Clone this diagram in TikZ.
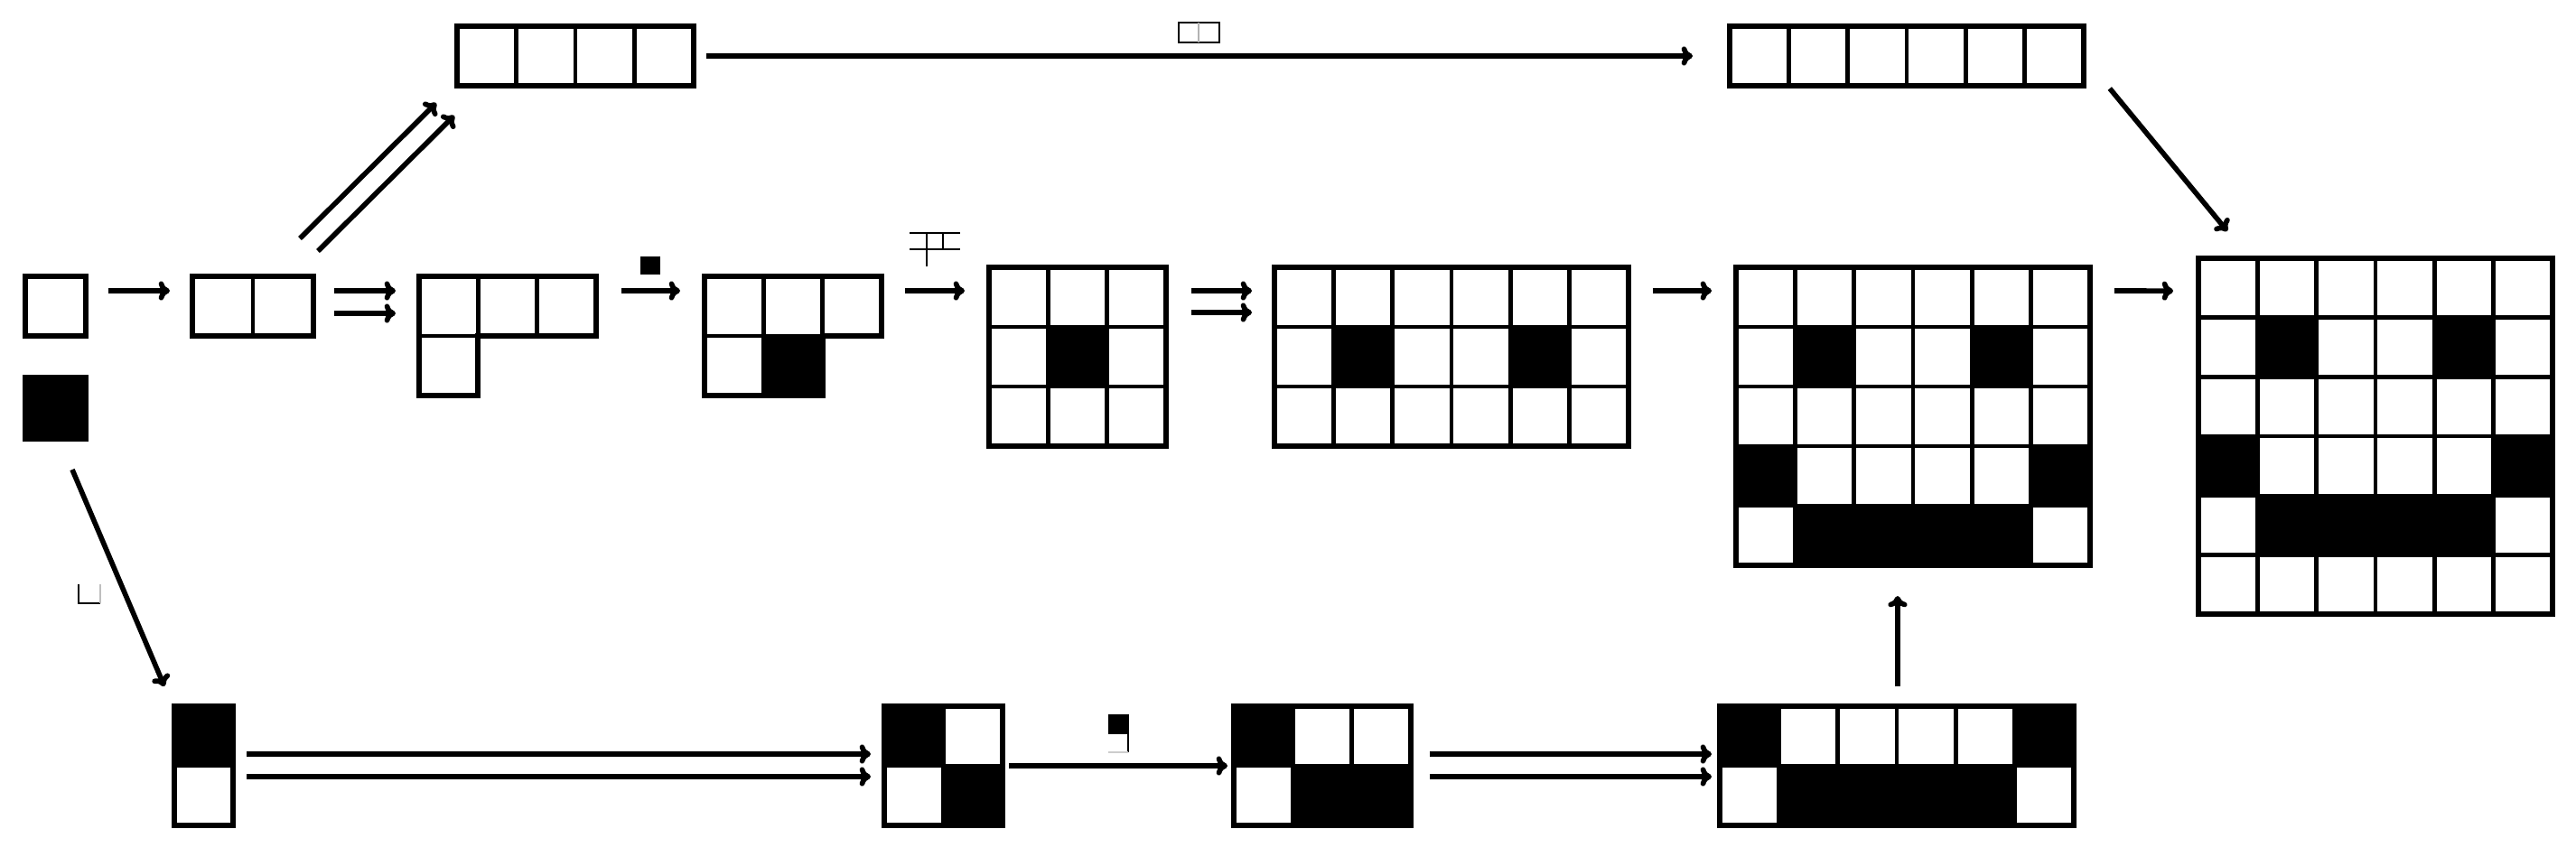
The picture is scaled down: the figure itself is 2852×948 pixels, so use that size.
\documentclass[tikz,border=0pt]{standalone}
\usetikzlibrary{fit,arrows.meta}
\tikzset{
  cellline/.style={line width=1.3pt},
  outline/.style={line width=1.7pt},
  arr/.style={line width=1.6pt,-{To[length=3.5pt,width=6pt]}},
  pict/.style={line width=0.6pt},
  gridnode/.style={inner sep=0pt,outer sep=0pt}
}
\newcommand\pxgrid[7]{% name, x0, y0, cols, rows, w, h
  \foreach \c in {1,...,#4}{\foreach \r in {1,...,#5}{
    \draw[cellline] ({#2+(\c-1)*#6},{#3+(\r-1)*#7}) rectangle ++(#6,#7);}}
  \draw[outline] (#2,#3) rectangle ++({#4*#6},{#5*#7});
  \path (#2,#3) coordinate (#1-nw) ++({#4*#6},{#5*#7}) coordinate (#1-se);
  \node[gridnode,fit=(#1-nw)(#1-se)] (#1) {};
}
\newcommand\pxfill[5]{% x0, y0, w, h, list c/r
  \foreach \c/\r in {#5}{\fill ({#1+(\c-1)*#3},{#2+(\r-1)*#4}) rectangle ++(#3,#4);}
}
\begin{document}
\begin{tikzpicture}[x=0.01cm,y=-0.01cm]
\useasboundingbox (0,0) rectangle (2852,948);
% ---- left column
\pxgrid{A1}{28}{306}{1}{1}{67}{66}
\pxfill{28}{418}{67}{68}{1/1}
\pxgrid{A2}{28}{418}{1}{1}{67}{68}
\pxgrid{B}{213}{306}{2}{1}{67}{66}
% ---- L shape C
\foreach \x/\y in {464/306,529.3/306,594.6/306,464/372}{\draw[cellline] (\x,\y) rectangle ++(65.3,66);}
\draw[outline] (464,306) -- (660,306) -- (660,372) -- (529.3,372) -- (529.3,438) -- (464,438) -- cycle;
\path (464,306) coordinate (C-nw) (660,438) coordinate (C-se);
\node[gridnode,fit=(C-nw)(C-se)] (C) {};
% ---- L shape C2
\fill (845.3,372) rectangle ++(65.3,66);
\foreach \x/\y in {780/306,845.3/306,910.6/306,780/372,845.3/372}{\draw[cellline] (\x,\y) rectangle ++(65.3,66);}
\draw[outline] (780,306) -- (976,306) -- (976,372) -- (910.6,372) -- (910.6,438) -- (780,438) -- cycle;
\path (780,306) coordinate (C2-nw) (976,438) coordinate (C2-se);
\node[gridnode,fit=(C2-nw)(C2-se)] (C2) {};
% ---- middle row
\pxfill{1095}{296}{65.3}{66}{2/2}
\pxgrid{D}{1095}{296}{3}{3}{65.3}{66}
\pxfill{1411}{296}{65.3}{66}{2/2,5/2}
\pxgrid{E}{1411}{296}{6}{3}{65.3}{66}
\pxfill{1922}{296}{65.3}{66}{2/2,5/2,1/4,6/4,2/5,3/5,4/5,5/5}
\pxgrid{F}{1922}{296}{6}{5}{65.3}{66}
\pxfill{2434}{286}{65.3}{65.7}{2/2,5/2,1/4,6/4,2/5,3/5,4/5,5/5}
\pxgrid{G}{2434}{286}{6}{6}{65.3}{65.7}
% ---- top row
\pxgrid{H}{506}{29}{4}{1}{65.5}{66}
\pxgrid{I}{1915}{29}{6}{1}{65.3}{66}
% ---- bottom row
\pxfill{193}{782}{65}{66}{1/1}
\pxgrid{J}{193}{782}{1}{2}{65}{66}
\pxfill{979}{782}{65.5}{66}{1/1,2/2}
\pxgrid{K}{979}{782}{2}{2}{65.5}{66}
\pxfill{1366}{782}{65.3}{66}{1/1,2/2,3/2}
\pxgrid{L}{1366}{782}{3}{2}{65.3}{66}
\pxfill{1904}{782}{65.3}{66}{1/1,6/1,2/2,3/2,4/2,5/2}
\pxgrid{M}{1904}{782}{6}{2}{65.3}{66}
% ---- pictogram labels
\draw[pict] (1305,25) rectangle (1350,47);
\draw[pict,gray!60] (1327,25) -- (1327,47);
\fill (709,284) rectangle (731,304);
\draw[pict] (1007,258) -- (1063,258) (1007,276) -- (1063,276)
  (1026,258) -- (1026,295) (1044,258) -- (1044,276);
\draw[pict] (87,647) -- (87,668) -- (111,668);
\draw[pict,gray!50] (111,647) -- (111,668);
\fill (1227,791) rectangle (1250,813);
\draw[pict] (1249,813) -- (1249,833);
\draw[pict,gray!40] (1227,833) -- (1249,833);
% ---- connectors
\draw[arr] ([shift={(25,-17)}]A1.east) -- ([shift={(-25,-17)}]B.west);
\draw[arr] ([shift={(23,-17)}]B.east) -- ([shift={(-26,-50)}]C.west);
\draw[arr] ([shift={(23,8)}]B.east) -- ([shift={(-26,-25)}]C.west);
\draw[arr] ([shift={(28,-50)}]C.east) -- ([shift={(-27,-50)}]C2.west);
\draw[arr] ([shift={(26,-50)}]C2.east) -- ([shift={(-27,-73)}]D.west);
\draw[arr] ([shift={(28,-73)}]D.east) -- ([shift={(-25,-73)}]E.west);
\draw[arr] ([shift={(28,-49)}]D.east) -- ([shift={(-25,-49)}]E.west);
\draw[arr] ([shift={(27,-73)}]E.east) -- ([shift={(-27,-139)}]F.west);
\draw[arr] ([shift={(27,-139)}]F.east) -- ([shift={(-28,-161)}]G.west);
\draw[arr] ([shift={(-15,-42)}]B.north east) -- ([shift={(-23,19)}]H.south west);
\draw[arr] ([shift={(5,-28)}]B.north east) -- ([shift={(-3,33)}]H.south west);
\draw[arr] ([shift={(14,0)}]H.east) -- ([shift={(-41,0)}]I.west);
\draw[arr] ([shift={(29,3)}]I.south east) -- ([shift={(32,-30)}]G.north west);
\draw[arr] ([shift={(18.5,34)}]A2.south) -- ([shift={(-11,-22)}]J.north west);
\draw[arr] ([shift={(15,-13)}]J.east) -- ([shift={(-15,-13)}]K.west);
\draw[arr] ([shift={(15,12)}]J.east) -- ([shift={(-15,12)}]K.west);
\draw[arr] ([shift={(7,0)}]K.east) -- ([shift={(-7,0)}]L.west);
\draw[arr] ([shift={(21,-13)}]L.east) -- ([shift={(-9,-13)}]M.west);
\draw[arr] ([shift={(21,12)}]L.east) -- ([shift={(-9,12)}]M.west);
\draw[arr] ([shift={(1,-22)}]M.north) -- ([shift={(-17,34)}]F.south);
\end{tikzpicture}
\end{document}
